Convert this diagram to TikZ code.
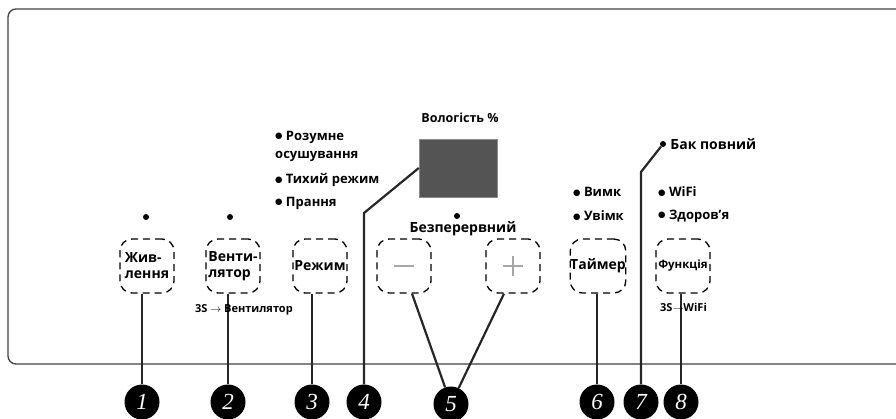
\documentclass[tikz,border=0pt]{standalone}
\usepackage{fontspec}
\setmainfont{Open Sans}
\newfontfamily\numfont{Liberation Serif}
\newfontfamily\symfont{DejaVu Sans}
\newcommand{\blt}{\raisebox{1.3pt}{\symfont\fontsize{8.5}{8}\selectfont ●}\ }
\usetikzlibrary{positioning}

\tikzset{
  btn/.style={draw, dashed, dash pattern=on 7pt off 5pt, line width=1.3pt, rounded corners=12pt,
    minimum width=54pt, minimum height=54pt, inner sep=0pt, font=\bfseries\fontsize{14}{16}\selectfont},
  num/.style={circle, fill=black, minimum size=35pt, inner sep=0pt, text=white,
    font=\numfont\itshape\fontsize{23}{23}\selectfont},
  conn/.style={line width=2.2pt, black!85},
  lbl/.style={anchor=west, inner sep=0pt, font=\bfseries\fontsize{13}{15}\selectfont},
  small/.style={anchor=west, inner sep=0pt, font=\bfseries\fontsize{11}{12}\selectfont},
  dot/.style={circle, fill=black, minimum size=6pt, inner sep=0pt},
  sym/.style={line width=2pt, black!35}
}

\begin{document}
\begin{tikzpicture}[x=1pt,y=-1pt]
  \useasboundingbox (0,0) rectangle (896,419);
  \draw[black!75, line width=1.3pt, rounded corners=8pt] (896,9) -- (8,9) -- (8,364) -- (896,364);

  % buttons
  \node[name=zhyv, btn, align=left] at (147,266) {Жив-\\лення};
  \node[name=vent, btn, align=left] at (233,266) {Венти-\\лятор};
  \node[name=rezh, btn] at (320,266) {Режим};
  \node[name=minus, btn] at (404,266) {};
  \node[name=plus, btn] at (513,266) {};
  \node[name=taim, btn] at (598,266) {Таймер};
  \node[name=func, btn, font=\bfseries\fontsize{11.5}{13}\selectfont] at (683,266) {Функція};
  \draw[sym] ([xshift=-10pt]minus.center) -- ([xshift=10pt]minus.center);
  \draw[sym] ([xshift=-10pt]plus.center) -- ([xshift=10pt]plus.center);
  \draw[sym] ([yshift=-10pt]plus.center) -- ([yshift=10pt]plus.center);

  % display
  \node[name=displ, draw=black!45, fill=black!67, minimum width=78pt, minimum height=58pt] at (458,168) {};
  \node[name=humid, font=\bfseries\fontsize{12.5}{14}\selectfont] at (460,118) {Вологість \%};
  \node[name=dcont, dot] at (457,216) {};
  \node[name=cont, font=\bfseries\fontsize{14}{16}\selectfont] at (463,229) {Безперервний};

  \node[name=dzhyv, dot] at (146,217) {};
  \node[name=dvent, dot] at (230,217) {};

  % texts
  \node[name=m1, lbl] at (275,137) {\blt Розумне};
  \node[name=m2, lbl] at (275,156) {осушування};
  \node[name=m3, lbl] at (275,180) {\blt Тихий режим};
  \node[name=m4, lbl] at (275,203) {\blt Прання};
  \node[name=t1, lbl] at (573,192) {\blt Вимк};
  \node[name=t2, lbl] at (573,216) {\blt Увімк};
  \node[name=f1, lbl] at (658,192) {\blt WiFi};
  \node[name=f2, lbl] at (658,216) {\blt Здоров’я};
  \node[name=dtank, dot] at (663,144) {};
  \node[name=tank, lbl, font=\bfseries\fontsize{14}{16}\selectfont, right=4pt of dtank] {Бак повний};

  % numbers
  \node[name=n1, num] at (142,402) {1};
  \node[name=n2, num] at (228,402) {2};
  \node[name=n3, num] at (312,402) {3};
  \node[name=n4, num] at (364,402) {4};
  \node[name=n5, num] at (451,404) {5};
  \node[name=n6, num] at (597,402) {6};
  \node[name=n7, num] at (641,402) {7};
  \node[name=n8, num] at (681,402) {8};

  \coordinate (b4) at (364,213);
  \coordinate (b7) at (641,172);
  \draw[conn] (n1) -- (n1 |- zhyv.south);
  \draw[conn] (n2) -- (n2 |- vent.south);
  \draw[conn] (n3) -- (n3 |- rezh.south);
  \draw[conn] (n4) -- (b4) -- (displ.west);
  \draw[conn] (n5) -- ([xshift=8pt]minus.south);
  \draw[conn] (n5) -- ([xshift=-9pt]plus.south);
  \draw[conn] (n6) -- (n6 |- taim.south);
  \draw[conn] (n7) -- (b7) -- (dtank);
  \draw[conn] (n8) -- (n8 |- func.south);

  \node[name=s1, small] at (195,310) {3S $\rightarrow$ Вентилятор};
  \node[name=s2, small] at (660,307) {3S$\rightarrow$WiFi};
\end{tikzpicture}
\end{document}
